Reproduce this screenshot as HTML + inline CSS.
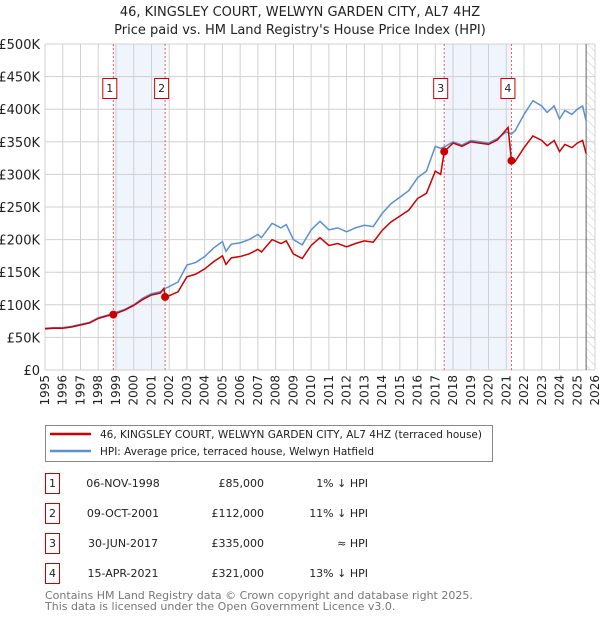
<!DOCTYPE html>
<html><head><meta charset="utf-8"><style>
body{margin:0;background:#fff;font-family:"DejaVu Sans","Liberation Sans",sans-serif;}
svg text{font-family:"DejaVu Sans","Liberation Sans",sans-serif;}
</style></head><body>
<svg id="c" width="600" height="620" xmlns="http://www.w3.org/2000/svg">
<defs><pattern id="hatch" width="6" height="6" patternUnits="userSpaceOnUse" patternTransform="rotate(-45)"><line x1="0" y1="0" x2="0" y2="6" stroke="#ccc" stroke-width="1"/></pattern></defs>
<text x="300" y="16" text-anchor="middle" font-size="13" fill="#222">46, KINGSLEY COURT, WELWYN GARDEN CITY, AL7 4HZ</text>
<text x="300" y="34" text-anchor="middle" font-size="13" fill="#222">Price paid vs. HM Land Registry's House Price Index (HPI)</text>
<g id="plot"></g>
<g>
<rect x="45.5" y="425.5" width="447" height="36" fill="#fff" stroke="#888"/>
<line x1="50" y1="434" x2="91" y2="434" stroke="#cc0000" stroke-width="2.5"/>
<text x="100" y="438" font-size="11" fill="#222" textLength="382" lengthAdjust="spacingAndGlyphs">46, KINGSLEY COURT, WELWYN GARDEN CITY, AL7 4HZ (terraced house)</text>
<line x1="50" y1="451" x2="91" y2="451" stroke="#5b8fd6" stroke-width="2.5"/>
<text x="100" y="455" font-size="11" fill="#222" textLength="274" lengthAdjust="spacingAndGlyphs">HPI: Average price, terraced house, Welwyn Hatfield</text>
</g>
<g id="table" font-size="11" fill="#222"></g>
<text x="45" y="599" font-size="11" fill="#777">Contains HM Land Registry data © Crown copyright and database right 2025.</text>
<text x="45" y="610" font-size="11" fill="#777">This data is licensed under the Open Government Licence v3.0.</text>
</svg>
<script>
const hpiYears=[1995,1995.5,1996,1996.5,1997,1997.5,1998,1998.5,1998.85,1999.5,2000,2000.5,2001,2001.5,2001.77,2002,2002.5,2003,2003.5,2004,2004.5,2005,2005.2,2005.5,2006,2006.5,2007,2007.2,2007.8,2008.3,2008.6,2009,2009.5,2010,2010.5,2011,2011.5,2012,2012.5,2013,2013.5,2014,2014.5,2015,2015.5,2016,2016.5,2017,2017.3,2017.5,2018,2018.5,2019,2019.5,2020,2020.5,2021,2021.29,2021.5,2022,2022.5,2023,2023.3,2023.7,2024,2024.3,2024.7,2025,2025.3,2025.5];
const hpiValues=[64,65,65,67,70,73,80,84,87,93,100,110,117,120,125,128,135,161,165,174,187,197,182,193,195,200,208,203,225,218,223,200,192,215,228,215,218,212,218,222,220,240,255,265,275,295,305,343,340,342,350,345,352,350,348,355,365,362,367,392,413,405,395,405,385,398,392,400,405,382];
const redYears=[1995,1995.5,1996,1996.5,1997,1997.5,1998,1998.5,1998.85,1999.5,2000,2000.5,2001,2001.5,2001.7,2001.77,2002,2002.5,2003,2003.5,2004,2004.5,2005,2005.2,2005.5,2006,2006.5,2007,2007.2,2007.8,2008.3,2008.6,2009,2009.5,2010,2010.5,2011,2011.5,2012,2012.5,2013,2013.5,2014,2014.5,2015,2015.5,2016,2016.5,2017,2017.3,2017.5,2018,2018.5,2019,2019.5,2020,2020.5,2021.1,2021.29,2021.5,2022,2022.5,2023,2023.3,2023.7,2024,2024.3,2024.7,2025,2025.3,2025.5];
const redValues=[63,64,64,66,69,72,79,83,85,92,99,108,115,118,125,112,114,120,143,147,155,166,175,162,172,174,178,185,181,200,194,198,178,171,191,203,191,194,189,194,198,196,214,227,236,245,263,271,305,300,335,348,343,350,348,346,353,372,321,320,341,359,352,344,352,335,346,341,348,352,332];
const saleYears=[1998.85,2001.77,2017.5,2021.29];
const saleValues=[85,112,335,321];
const saleLabels=["1","2","3","4"];
const saleDates=["06-NOV-1998","09-OCT-2001","30-JUN-2017","15-APR-2021"];
const salePrices=["£85,000","£112,000","£335,000","£321,000"];
const saleHpi=["1% ↓ HPI","11% ↓ HPI","≈ HPI","13% ↓ HPI"];
const yTicks=[0,50,100,150,200,250,300,350,400,450,500];
const yTickLabels=["£0","£50K","£100K","£150K","£200K","£250K","£300K","£350K","£400K","£450K","£500K"];
const xTicks=[1995,1996,1997,1998,1999,2000,2001,2002,2003,2004,2005,2006,2007,2008,2009,2010,2011,2012,2013,2014,2015,2016,2017,2018,2019,2020,2021,2022,2023,2024,2025,2026];
const dataEnd=2025.5;
const X0=45,X1=595,Y0=370,Y1=44;
const sx=y=>X0+(y-1995)*(X1-X0)/31;
const sy=v=>Y0-v*(Y0-Y1)/500;
const NS="http://www.w3.org/2000/svg";
const plot=document.getElementById('plot');
function mk(tag,attrs,parent){const e=document.createElementNS(NS,tag);for(const k in attrs)e.setAttribute(k,attrs[k]);(parent||plot).appendChild(e);return e;}
for(let i=0;i<saleYears.length;i+=2){const r=mk('rect',{x:sx(saleYears[i]),y:Y1,width:sx(saleYears[i+1])-sx(saleYears[i]),height:Y0-Y1,fill:'#f0f4fc'});

}
const h=mk('rect',{x:sx(dataEnd),y:Y1,width:X1-sx(dataEnd),height:Y0-Y1,fill:'url(#hatch)'});


xTicks.forEach(t=>{const l=mk('line',{x1:sx(t),x2:sx(t),y1:Y1,y2:Y0,stroke:'#d0d0d0','stroke-width':1});


const tx=mk('text',{x:0,y:0,'font-size':12,fill:'#222','text-anchor':'end',transform:`translate(${sx(t)+4},375) rotate(-90)`});tx.textContent=t;

});
yTicks.forEach((t,i)=>{const l=mk('line',{x1:X0,x2:X1,y1:sy(t),y2:sy(t),stroke:'#d0d0d0','stroke-width':1});


const tx=mk('text',{x:40,y:sy(t)+5,'font-size':13,fill:'#222','text-anchor':'end'});tx.textContent=yTickLabels[i];

});
const de=mk('line',{x1:sx(dataEnd),x2:sx(dataEnd),y1:Y1,y2:Y0,stroke:'#666','stroke-width':1});


saleYears.forEach((y,i)=>{const l=mk('line',{x1:sx(y),x2:sx(y),y1:Y1,y2:Y0,stroke:'#e06060','stroke-width':1,'stroke-dasharray':'2,2'});


const b=mk('rect',{x:sx(y)-10.5,y:78.5,width:14,height:20,fill:'#fff',stroke:'#cc0000'});


const t=mk('text',{x:sx(y)-3.5,y:92,'font-size':11,fill:'#222','text-anchor':'middle'});t.textContent=saleLabels[i];

});
const hp=mk('polyline',{points:hpiYears.map((y,i)=>sx(y)+','+sy(hpiValues[i])).join(' '),fill:'none',stroke:'#5b8fd6','stroke-width':1.5});


const rp=mk('polyline',{points:redYears.map((y,i)=>sx(y)+','+sy(redValues[i])).join(' '),fill:'none',stroke:'#cc0000','stroke-width':1.5});


saleYears.forEach((y,i)=>{const c=mk('circle',{cx:sx(y),cy:sy(saleValues[i]),r:4,fill:'#cc0000'});

});
const tb=document.getElementById('table');
saleLabels.forEach((s,i)=>{const y=487+i*30;
const b=mk('rect',{x:45.5,y:y-13.5,width:14,height:20,fill:'#fff',stroke:'#cc0000'},tb);


const t0=mk('text',{x:52.5,y:y,'text-anchor':'middle'},tb);t0.textContent=s;


const t1=mk('text',{x:123,y:y,'text-anchor':'middle'},tb);t1.textContent=saleDates[i];


const t2=mk('text',{x:264,y:y,'text-anchor':'end'},tb);t2.textContent=salePrices[i];


const t3=mk('text',{x:368,y:y,'text-anchor':'end'},tb);t3.textContent=saleHpi[i];

});
</script>
</body></html>
